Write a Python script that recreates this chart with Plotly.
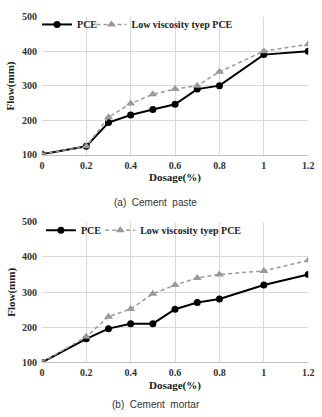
import plotly.graph_objects as go

dosage = [0, 0.2, 0.3, 0.4, 0.5, 0.6, 0.7, 0.8, 1.0, 1.2]
paste_pce = [101, 124, 193, 215, 231, 246, 290, 300, 390, 400]
paste_lv = [101, 124, 208, 248, 275, 290, 300, 340, 400, 420]
mortar_pce = [100, 167, 196, 210, 210, 251, 270, 280, 320, 350]
mortar_lv = [100, 173, 230, 252, 295, 320, 340, 350, 360, 390]
names = ["PCE", "Low viscosity tyep PCE"]
xticks = [0, 0.2, 0.4, 0.6, 0.8, 1, 1.2]
xticklabels = ["0", "0.2", "0.4", "0.6", "0.8", "1", "1.2"]
yticks = [100, 200, 300, 400, 500]
captions = ["(a)  Cement  paste", "(b)  Cement  mortar"]

W, H = 322, 417
serif = "Liberation Serif"
sans = "Liberation Sans"

fig = go.Figure()

panels = [
    (paste_pce, paste_lv, "x", "y", "legend", "legend3"),
    (mortar_pce, mortar_lv, "x2", "y2", "legend2", "legend4"),
]

for pce, lv, xa, ya, lg1, lg2 in panels:
    fig.add_trace(go.Scatter(
        x=dosage, y=pce, name=names[0], xaxis=xa, yaxis=ya, legend=lg1,
        mode="lines+markers",
        line=dict(color="black", width=2),
        marker=dict(symbol="circle", size=7, color="black"),
    ))
    fig.add_trace(go.Scatter(
        x=dosage, y=lv, name=names[1], xaxis=xa, yaxis=ya, legend=lg2,
        mode="lines+markers",
        line=dict(color="#9a9a9a", width=1.5, dash="4px,3px"),
        marker=dict(symbol="triangle-up", size=8, color="#9a9a9a"),
    ))

x_dom = [40 / W, 314 / W]
axis_common = dict(
    showgrid=True, gridcolor="#d9d9d9", gridwidth=1,
    zeroline=False, showline=False,
    tickfont=dict(family=serif, size=10, color="#333333", weight="bold"),
    ticks="",
)

layout = dict(
    width=W, height=H,
    margin=dict(l=0, r=0, t=0, b=0),
    paper_bgcolor="white", plot_bgcolor="white",
    showlegend=True,
)

for idx, (ax, ay, ytop, ybot) in enumerate([("xaxis", "yaxis", 11, 153), ("xaxis2", "yaxis2", 222, 367)]):
    ydom = [1 - ybot / H, 1 - ytop / H]
    layout[ax] = dict(axis_common, domain=x_dom, range=[0, 1.2],
                      tickvals=xticks, ticktext=xticklabels,
                      anchor="y" if idx == 0 else "y2",
                      showline=True, linecolor="#bfbfbf", linewidth=1, ticklabelstandoff=1)
    layout[ay] = dict(axis_common, domain=ydom, range=[100, 500],
                      tickvals=yticks, anchor="x" if idx == 0 else "x2",
                      ticklabelstandoff=4)

fig.update_layout(**layout)

leg_common = dict(
    orientation="h", xanchor="left", yanchor="middle",
    font=dict(family=serif, size=10, color="#222222", weight="bold"),
    bgcolor="rgba(0,0,0,0)", itemwidth=30, tracegroupgap=0,
)
fig.update_layout(
    legend=dict(leg_common, x=35 / W, y=1 - 19 / H),
    legend3=dict(leg_common, x=91 / W, y=1 - 19 / H),
    legend2=dict(leg_common, x=39 / W, y=1 - 231 / H),
    legend4=dict(leg_common, x=100 / W, y=1 - 231 / H),
)

annotations = []
for ybot, capy, cap in [(153, 202, captions[0]), (367, 410, captions[1])]:
    annotations.append(dict(
        text="<b>Dosage(%)</b>", x=177 / W, y=1 - (ybot + 24) / H,
        xref="paper", yref="paper", showarrow=False,
        font=dict(family=serif, size=11, color="#222222"),
        xanchor="center", yanchor="middle",
    ))
    annotations.append(dict(
        text=cap, x=157 / W, y=1 - capy / H,
        xref="paper", yref="paper", showarrow=False,
        font=dict(family=sans, size=10, color="#333333"),
        xanchor="center", yanchor="middle",
    ))
for ymid in [(11 + 153) / 2, (222 + 367) / 2]:
    annotations.append(dict(
        text="<b>Flow(mm)</b>", x=8 / W, y=1 - ymid / H,
        xref="paper", yref="paper", showarrow=False, textangle=-90,
        font=dict(family=serif, size=11, color="#222222"),
        xanchor="center", yanchor="middle",
    ))
fig.update_layout(annotations=annotations)

fig.write_html("out.html")
